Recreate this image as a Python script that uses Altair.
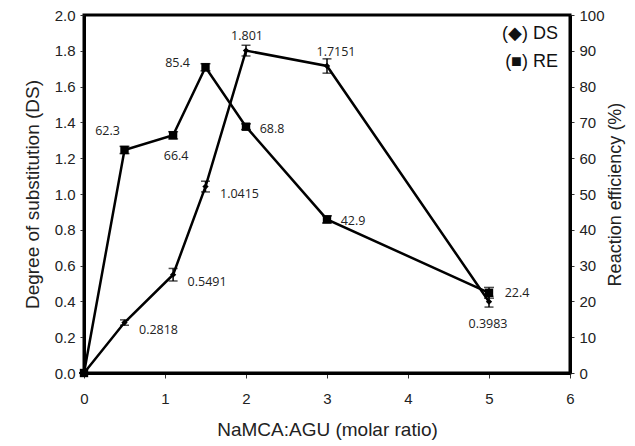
import altair as alt
import pandas as pd

ratio = [0, 0.5, 1.1, 1.5, 2.0, 3.0, 5.0]
ds = [0, 0.2818, 0.5491, 1.0415, 1.801, 1.7151, 0.3983]
ds_err = [0, 0.015, 0.035, 0.03, 0.03, 0.04, 0.03]
re = [0, 62.3, 66.4, 85.4, 68.8, 42.9, 22.4]
re_err = [0, 1.0, 1.0, 1.0, 0.8, 1.0, 1.5]
ds_labels = ["", "0.2818", "0.5491", "1.0415", "1.801", "1.7151", "0.3983"]
re_labels = ["", "62.3", "66.4", "85.4", "68.8", "42.9", "22.4"]
# label placement group per point (style only)
ds_place = ["none", "rb", "rb", "rb", "top", "top2", "below"]
re_place = ["none", "ul", "below", "left", "right", "right", "right2"]

df = pd.DataFrame({
    "x": ratio, "ds": ds, "ds_lo": [a - b for a, b in zip(ds, ds_err)],
    "ds_hi": [a + b for a, b in zip(ds, ds_err)],
    "re": re, "re_lo": [a - b for a, b in zip(re, re_err)],
    "re_hi": [a + b for a, b in zip(re, re_err)],
    "ds_lab": ds_labels, "re_lab": re_labels,
    "ds_place": ds_place, "re_place": re_place,
})

FONT = "Liberation Sans"
LFONT = "Open Sans"

x_axis = alt.Axis(values=[0, 1, 2, 3, 4, 5, 6], title="NaMCA:AGU (molar ratio)",
                  grid=False, domainWidth=3, domainColor="black", labelFlush=False,
                  tickColor="#333", tickSize=5, labelFontSize=15,
                  labelFont=FONT, labelColor="#222", labelPadding=13,
                  titleFont=FONT, titleFontSize=19, titleFontWeight="normal",
                  titlePadding=14, titleColor="#222")
x_scale = alt.Scale(domain=[0, 6], nice=False)

def X():
    return alt.X("x:Q", scale=x_scale, axis=x_axis)

ds_scale = alt.Scale(domain=[0, 2], nice=False)
re_scale = alt.Scale(domain=[0, 100], nice=False)

ds_axis = alt.Axis(values=[0, 0.2, 0.4, 0.6, 0.8, 1.0, 1.2, 1.4, 1.6, 1.8, 2.0], format=".1f",
                   title="Degree of substitution (DS)", grid=False, domainWidth=3, labelFlush=False,
                   domainColor="black", tickColor="#333", tickSize=4, labelFontSize=15,
                   labelFont=FONT, labelColor="#222", labelPadding=5,
                   titleFont=FONT, titleFontSize=19, titleFontWeight="normal",
                   titlePadding=12, titleColor="#222")
re_axis = alt.Axis(values=list(range(0, 101, 10)), orient="right",
                   title="Reaction efficiency (%)", grid=False, domainWidth=3, labelFlush=False,
                   domainColor="black", tickColor="#333", tickSize=4, labelFontSize=15,
                   labelFont=FONT, labelColor="#222", labelPadding=5,
                   titleFont=FONT, titleFontSize=18, titleFontWeight="normal",
                   titleAngle=270, titleBaseline="top",
                   titlePadding=2, titleColor="#222")

def DY(field):
    return alt.Y(field, scale=ds_scale, axis=ds_axis)

def RY(field):
    return alt.Y(field, scale=re_scale, axis=re_axis)

base = alt.Chart(df)

ds_line = base.mark_line(color="black", strokeWidth=2.5).encode(x=X(), y=DY("ds:Q"))
ds_pts = base.mark_point(shape="diamond", filled=True, color="black", size=40, opacity=1).encode(x=X(), y=DY("ds:Q"))
ds_err_r = base.mark_rule(color="black", strokeWidth=1.5).encode(x=X(), y=DY("ds_lo:Q"), y2="ds_hi:Q")
ds_cap_lo = base.mark_tick(color="black", thickness=1.5, size=9, orient="horizontal").encode(x=X(), y=DY("ds_lo:Q"))
ds_cap_hi = base.mark_tick(color="black", thickness=1.5, size=9, orient="horizontal").encode(x=X(), y=DY("ds_hi:Q"))

def lab(field, place, placevalue, dx, dy, yenc):
    return base.transform_filter(alt.datum[place] == placevalue).mark_text(
        font=LFONT, fontSize=12.5, color="#222", dx=dx, dy=dy).encode(
        x=X(), y=yenc, text=field)

ds_labs = [
    lab("ds_lab:N", "ds_place", "rb", 34, 7, DY("ds:Q")),
    lab("ds_lab:N", "ds_place", "top", 1, -15, DY("ds:Q")),
    lab("ds_lab:N", "ds_place", "top2", 9, -14, DY("ds:Q")),
    lab("ds_lab:N", "ds_place", "below", -1, 22, DY("ds:Q")),
]

ds_layer = alt.layer(ds_line, ds_err_r, ds_cap_lo, ds_cap_hi, ds_pts, *ds_labs)

re_line = base.mark_line(color="black", strokeWidth=2.5).encode(x=X(), y=RY("re:Q"))
re_pts = base.mark_square(color="black", size=70, opacity=1).encode(x=X(), y=RY("re:Q"))
re_err_r = base.mark_rule(color="black", strokeWidth=1.5).encode(x=X(), y=RY("re_lo:Q"), y2="re_hi:Q")
re_cap_lo = base.mark_tick(color="black", thickness=1.5, size=10, orient="horizontal").encode(x=X(), y=RY("re_lo:Q"))
re_cap_hi = base.mark_tick(color="black", thickness=1.5, size=10, orient="horizontal").encode(x=X(), y=RY("re_hi:Q"))

re_labs = [
    lab("re_lab:N", "re_place", "ul", -17, -19, RY("re:Q")),
    lab("re_lab:N", "re_place", "below", 3, 21, RY("re:Q")),
    lab("re_lab:N", "re_place", "left", -28, -4, RY("re:Q")),
    lab("re_lab:N", "re_place", "right", 26, 2, RY("re:Q")),
    lab("re_lab:N", "re_place", "right2", 28, 0, RY("re:Q")),
]

legend_ds = alt.Chart(pd.DataFrame({"t": ["(\u25c6) DS"]})).mark_text(
    font=FONT, fontSize=18, color="#111", align="right").encode(
    x=alt.value(474), y=alt.value(19), text="t:N")
legend_re = alt.Chart(pd.DataFrame({"t": ["(\u25a0) RE"]})).mark_text(
    font=FONT, fontSize=18, color="#111", align="right").encode(
    x=alt.value(474), y=alt.value(47), text="t:N")

re_layer = alt.layer(re_line, re_err_r, re_cap_lo, re_cap_hi, re_pts, *re_labs, legend_ds, legend_re)

chart = alt.layer(ds_layer, re_layer).resolve_scale(y="independent").properties(
    width=486, height=358,
    autosize=alt.AutoSizeParams(type="none"),
    padding={"left": 76, "top": 7, "right": 57, "bottom": 72},
    background="white",
).configure_view(stroke="black", strokeWidth=3)

chart.save("out.html", embed_options={"renderer": "svg", "actions": False})
